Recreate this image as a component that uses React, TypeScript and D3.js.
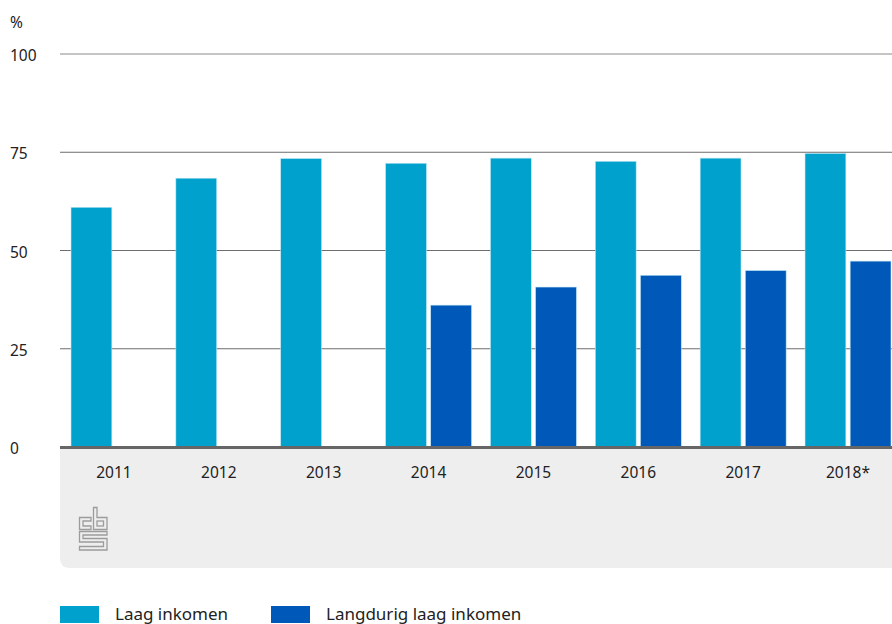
import React from "react";
import * as d3 from "d3";

const years = ["2011", "2012", "2013", "2014", "2015", "2016", "2017", "2018*"];
const laagInkomen = [61, 68.4, 73.4, 72.2, 73.5, 72.7, 73.5, 74.7];
const langdurigLaagInkomen = [null, null, null, 36.1, 40.7, 43.7, 44.9, 47.3];
const yTicks = [0, 25, 50, 75, 100];
const seriesNames = ["Laag inkomen", "Langdurig laag inkomen"];
const colors = ["#00A1CD", "#0058B8"];

const W = 892;
const H = 624;
const left = 60;
const right = 892;
const y0 = 447;
const y100 = 54;
const font = "'Noto Sans', 'Open Sans', sans-serif";

export default function App() {
  const x0 = d3.scaleBand<string>().domain(years).range([71, 891]).paddingInner(0.18).paddingOuter(0);
  const x1 = d3.scaleBand<string>().domain(["a", "b"]).range([0, x0.bandwidth()]).paddingInner(0.095);
  const y = d3.scaleLinear().domain([0, 100]).range([y0, y100]);
  const series = [laagInkomen, langdurigLaagInkomen];
  const keys = ["a", "b"];

  return (
    <svg width={W} height={H} style={{ position: "absolute", left: 0, top: 0, display: "block" }} fontFamily={font}>
      <rect width={W} height={H} fill="#fff" />
      {/* gray panel */}
      <path d={`M${left},${y0} H${right} V568 H${left + 10} Q${left},568 ${left},558 Z`} fill="#EEEEEE" />
      {/* gridlines */}
      {yTicks.filter(t => t > 0).map(t => (
        <line key={t} x1={left} x2={right} y1={y(t)} y2={y(t)} stroke={t === 100 ? "#8a8a8a" : "#6e6e6e"} strokeWidth={1} />
      ))}
      {yTicks.map(t => (
        <text key={"l" + t} x={10} y={y(t) + 7} fontSize={15.5} fill="#222">{t}</text>
      ))}
      <text x={10} y={28} fontSize={15.5} fill="#222">%</text>
      {/* bars */}
      {series.map((s, si) =>
        s.map((v, i) =>
          v == null ? null : (
            <rect
              key={si + "-" + i}
              x={(x0(years[i]) as number) + (x1(keys[si]) as number)}
              y={y(v)}
              width={x1.bandwidth()}
              height={y0 - y(v)}
              fill={colors[si]}
              stroke="#bfe6f3"
              strokeWidth={0.6}
            />
          )
        )
      )}
      {/* zero axis */}
      <line x1={left} x2={right} y1={y0 + 0.5} y2={y0 + 0.5} stroke="#666" strokeWidth={3} />
      {/* x labels */}
      {years.map(yr => (
        <text key={yr} x={(x0(yr) as number) + x0.bandwidth() / 2} y={478} textAnchor="middle" fontSize={15.5} fill="#222">{yr}</text>
      ))}
      {/* cbs logo */}
      <g fill="none" stroke="#9c9c9c" strokeWidth={1.3}>
        <path d="M91,517.5 H79.5 V529.5 H91 V526 H83 V521 H91 Z" />
        <path d="M93.5,507.5 H97 V517.5 H107 V529.5 H93.5 Z" />
        <rect x={97} y={521} width={6.5} height={5} />
        <path d="M79.5,531.5 H107 V535 H83 V538.5 H107 V550 H79.5 V546.5 H103.5 V542 H79.5 Z" />
      </g>
      {/* legend */}
      {seriesNames.map((n, i) => {
        const lx = i === 0 ? 60 : 271;
        return (
          <g key={n}>
            <rect x={lx} y={606} width={39} height={17} fill={colors[i]} />
            <text x={lx + 55} y={619.5} fontSize={17} fill="#222">{n}</text>
          </g>
        );
      })}
    </svg>
  );
}
